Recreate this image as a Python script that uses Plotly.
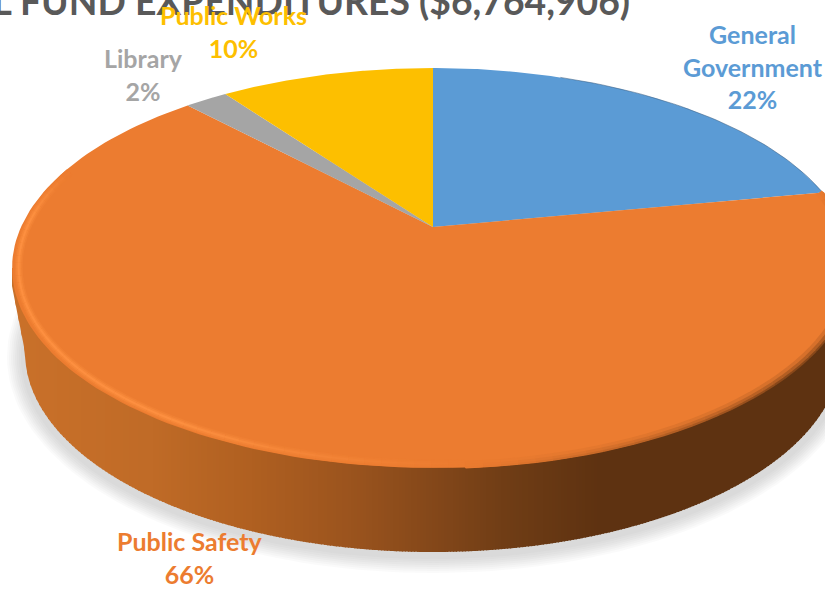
import numpy as np
import plotly.graph_objects as go

# Budget shares, clockwise from twelve o'clock
categories = ["General<br>Government", "Public Safety", "Library", "Public Works"]
shares = [22, 66, 2, 10]
slice_colors = ["#5B9BD5", "#EC7C30", "#A5A5A5", "#FDBF00"]
label_x = [753, 190, 143, 233]
label_y = [66.5, 557, 74.5, 31.5]
title_text = "GENERAL FUND EXPENDITURES ($6,764,906)"

# Perspective disc: apex position, radii and foreshortening of the top face
APEX_X, APEX_Y = 433, 227
RADIUS_X, RADIUS_Y, TILT = 412, 191.6, 0.205
# Outline of the base, seen below the top face
BASE_Y, BASE_RX, BASE_RY = 352, 408, 200
TOP_Y, TOP_RX, TOP_RY = 268, 421, 200

# Wall shading by horizontal position
wall_stops_x = [10, 150, 250, 350, 450, 500, 600, 830]
wall_stops_rgb = [
    (202, 113, 42), (192, 107, 39), (176, 96, 33), (155, 84, 30),
    (127, 69, 25), (113, 62, 22), (94, 50, 17), (94, 50, 17),
]

FACE_RGB = np.array([236, 124, 48])
GLOW_RGB = np.array([255, 146, 66])
DARK_RGB = np.array([94, 50, 17])


def project(fraction, scale=1.0):
    """Map a clockwise fraction of the disc to its place on the page."""
    angle = 2 * np.pi * np.asarray(fraction)
    u, v = scale * np.sin(angle), scale * np.cos(angle)
    depth = 1 + TILT * v
    return APEX_X + RADIUS_X * u / depth, APEX_Y - RADIUS_Y * v / depth


def wall_color(x):
    rgb = [np.interp(x, wall_stops_x, [c[i] for c in wall_stops_rgb]) for i in range(3)]
    return "rgb(%d,%d,%d)" % tuple(rgb)


def wall_bottom(x):
    """Lower edge of the wall, joining the top face with short tangents."""
    left, right = APEX_X - BASE_RX, APEX_X + BASE_RX
    if x < left:
        return TOP_Y + 18 + (x - 12) / (left - 12) * (BASE_Y - TOP_Y - 18)
    if x > right:
        return BASE_Y
    return BASE_Y + BASE_RY * np.sqrt(1 - ((x - APEX_X) / BASE_RX) ** 2)


def mix(target, amount):
    rgb = FACE_RGB + (target - FACE_RGB) * amount
    return "rgb(%d,%d,%d)" % tuple(rgb)


def polygon(x, y, color):
    return go.Scatter(x=x, y=y, mode="lines", fill="toself", fillcolor=color,
                      line=dict(width=0), hoverinfo="skip", showlegend=False)


def stroke(x, y, color, width):
    return go.Scatter(x=x, y=y, mode="lines", line=dict(color=color, width=width),
                      hoverinfo="skip", showlegend=False)


fig = go.Figure()

# Soft drop shadow under the disc
t = np.linspace(0, 2 * np.pi, 181)
for grow in range(16, 0, -2):
    fig.add_trace(polygon(
        APEX_X + (BASE_RX + grow + 2) * np.cos(t),
        BASE_Y + 5 + (BASE_RY + grow) * np.sin(t),
        "rgba(120,120,120,0.04)",
    ))

# Wall, as narrow overlapping strips so the shading runs smoothly
for left in np.arange(12, 832, 3):
    xs = np.linspace(left, left + 4, 3)
    ys = [wall_bottom(v) for v in xs]
    fig.add_trace(polygon(
        [xs[0], *xs, xs[-1]],
        [TOP_Y, *ys, TOP_Y],
        wall_color(left),
    ))

# Top face: one wedge per category
edges = np.cumsum([0] + shares) / sum(shares)
for start, end, color in zip(edges[:-1], edges[1:], slice_colors):
    fx, fy = project(np.linspace(start, end, 160))
    fig.add_trace(polygon([APEX_X, *fx, APEX_X], [APEX_Y, *fy, APEX_Y], color))

# Thin dark edge on the blue wedge where it nears the wall
fx, fy = project(np.linspace(edges[0] + 0.06, edges[1], 40))
fig.add_trace(stroke(fx, fy, "rgba(60,95,130,0.55)", 1))

# Bevel along the front rim: shaded on the right, highlight on the left
rim_right = np.linspace(edges[1], 0.49, 50)
for scale, width, strength in ((0.99, 7, 0.15), (0.995, 4, 0.4), (1.0, 2, 0.7)):
    for a, b in zip(rim_right[:-1], rim_right[1:]):
        mid = (a + b) / 2
        dark = min(np.clip((0.49 - mid) / 0.12, 0, 1), np.clip((mid - edges[1]) / 0.03, 0, 1))
        fx, fy = project(np.linspace(a, b, 4), scale)
        fig.add_trace(stroke(fx, fy, mix(DARK_RGB, strength * dark), width))
rim = np.linspace(0.49, 0.80, 60)
for scale, width, strength in ((0.985, 8, 0.25), (0.985, 5, 0.55), (0.985, 2, 0.9)):
    for a, b in zip(rim[:-1], rim[1:]):
        mid = (a + b) / 2
        fade = min(np.clip((mid - 0.49) / 0.1, 0, 1), np.clip((0.80 - mid) / 0.04, 0, 1))
        fx, fy = project(np.linspace(a, b, 4), scale)
        fig.add_trace(stroke(fx, fy, mix(GLOW_RGB, strength * fade), width))

# Title runs past the page edge, with the labels drawn over it
annotations = [dict(
    x=632, y=14, xref="x", yref="y", xanchor="right", yanchor="bottom",
    text=f"<b>{title_text}</b>", showarrow=False, yshift=-11,
    font=dict(family="Lato", size=37.3, color="#595959"),
)]
for name, share, color, x, y in zip(categories, shares, slice_colors, label_x, label_y):
    annotations.append(dict(
        x=x, y=y, xref="x", yref="y", xanchor="center", yanchor="middle",
        text=f"<b>{name}<br>{share}%</b>", showarrow=False, align="center",
        font=dict(family="Lato", size=25, color=color),
    ))

fig.update_layout(
    width=825, height=589, margin=dict(l=0, r=0, t=0, b=0),
    paper_bgcolor="white", plot_bgcolor="white", showlegend=False,
    xaxis=dict(range=[0, 825], visible=False),
    yaxis=dict(range=[589, 0], visible=False),
    annotations=annotations,
)
fig.write_html("out.html", config=dict(displayModeBar=False))
